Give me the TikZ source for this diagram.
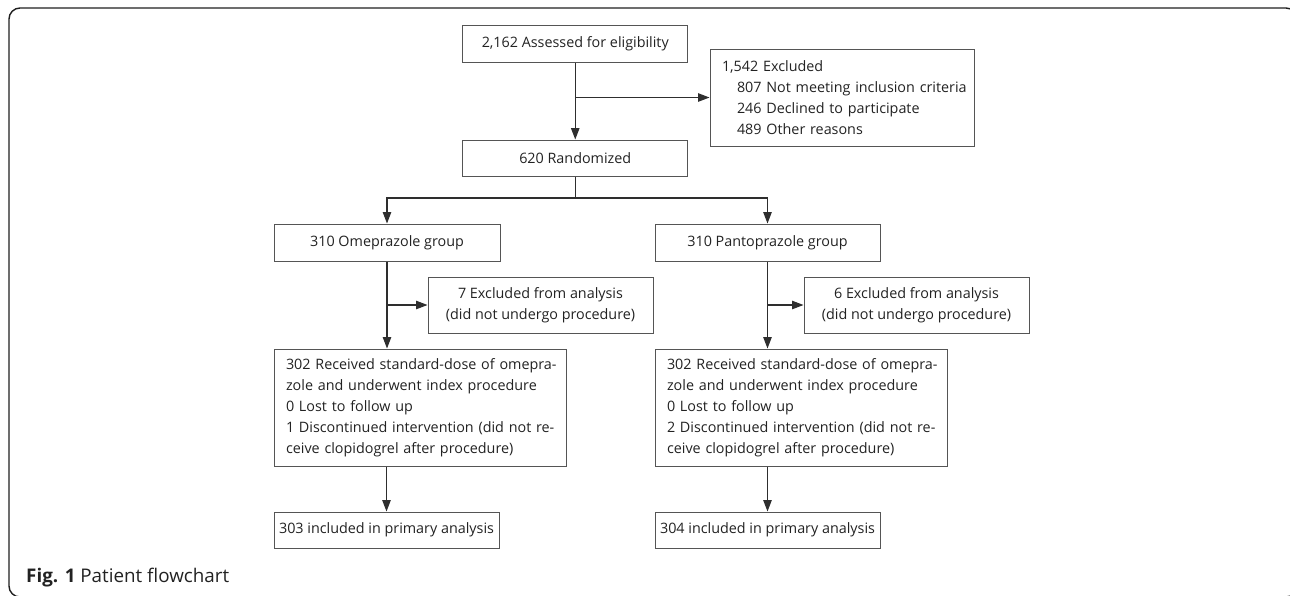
\documentclass[tikz,border=0pt]{standalone}
\usepackage{fontspec}
\setmainfont{Open Sans}
\usetikzlibrary{arrows.meta}
\definecolor{boxc}{HTML}{555555}
\definecolor{linec}{HTML}{2E2E2E}
\definecolor{txtc}{HTML}{222222}
\definecolor{framec}{HTML}{1E1E1E}
\newlength\mymeasure
\newcommand\rowtxt[1]{\makebox[0pt][l]{#1}}
\begin{document}
\settowidth\mymeasure{\fontsize{10}{12}\selectfont 2,162 Assessed for eligibility}%
\pgfmathsetmacro\bfs{10*187/\mymeasure}%
\settowidth\mymeasure{\fontsize{10}{12}\selectfont \textbf{Fig. 1} Patient flowchart}%
\pgfmathsetmacro\cfs{10*203/\mymeasure}%
\begin{tikzpicture}[x=1pt,y=-1pt,
  box/.style={draw=boxc, line width=1pt, inner sep=0pt, text=txtc,
    font=\fontsize{\bfs}{21}\selectfont, align=center},
  lbox/.style={box, align=left, inner xsep=12pt},
  arr/.style={draw=linec, line width=1.1pt, -{Triangle[length=11.5pt,width=8.5pt]}},
  conn/.style={draw=linec, line width=1.1pt}]
\useasboundingbox (0,0) rectangle (1290,595);
\draw[line width=1.4pt, draw=framec, rounded corners=11pt] (9,8) rectangle (1297,597);

\node[box, minimum width=225pt, minimum height=37pt] (A) at (575.25,43.5) {2,162 Assessed for eligibility};
\node[lbox, text width=240pt, minimum height=97pt] (E) at (842,97.5)
  {\rowtxt{1,542 Excluded}\\\rowtxt{\hspace*{15pt}807 Not meeting inclusion criteria}\\\rowtxt{\hspace*{15pt}246 Declined to participate}\\\rowtxt{\hspace*{15pt}489 Other reasons}};
\node[box, minimum width=225pt, minimum height=36pt] (R) at (575.25,158) {620 Randomized};
\node[box, minimum width=226pt, minimum height=37pt] (O) at (387,242.5) {310 Omeprazole group};
\node[box, minimum width=225pt, minimum height=37pt] (P) at (767.5,242.5) {310 Pantoprazole group};
\node[box, minimum width=225pt, minimum height=56pt] (XO) at (540.5,305) {7 Excluded from analysis\\(did not undergo procedure)};
\node[box, minimum width=225pt, minimum height=56pt] (XP) at (916.5,305) {6 Excluded from analysis\\(did not undergo procedure)};
\node[lbox, text width=268pt, minimum height=117pt] (RO) at (420,407.5)
  {\rowtxt{302 Received standard-dose of omepra-}\\\rowtxt{zole and underwent index procedure}\\\rowtxt{0 Lost to follow up}\\\rowtxt{1 Discontinued intervention (did not re-}\\\rowtxt{ceive clopidogrel after procedure)}};
\node[lbox, text width=268pt, minimum height=117pt] (RP) at (801,407.5)
  {\rowtxt{302 Received standard-dose of omepra-}\\\rowtxt{zole and underwent index procedure}\\\rowtxt{0 Lost to follow up}\\\rowtxt{2 Discontinued intervention (did not re-}\\\rowtxt{ceive clopidogrel after procedure)}};
\node[box, minimum width=225pt, minimum height=36pt] (IO) at (386.5,530) {303 included in primary analysis};
\node[box, minimum width=225pt, minimum height=36pt] (IP) at (767.5,530) {304 included in primary analysis};

\node[anchor=base west, inner sep=0pt, text=txtc, font=\fontsize{\cfs}{22}\selectfont] (cap) at (26,582)
  {\textbf{Fig. 1} Patient flowchart};

\draw[arr] (A.south) -- (R.north);
\draw[arr] (A.south |- E.west) -- (E.west);
\coordinate (s) at (575.25,198);
\draw[conn] (R.south) -- (s);
\draw[arr] (s) -| (O.north);
\draw[arr] (s) -| (P.north);
\draw[arr] (O.south) -- (O.south |- RO.north);
\draw[arr] (O.south |- XO.west) -- (XO.west);
\draw[arr] (IO.north |- RO.south) -- (IO.north);
\draw[arr] (P.south) -- (P.south |- RP.north);
\draw[arr] (P.south |- XP.west) -- (XP.west);
\draw[arr] (IP.north |- RP.south) -- (IP.north);
\end{tikzpicture}
\end{document}
